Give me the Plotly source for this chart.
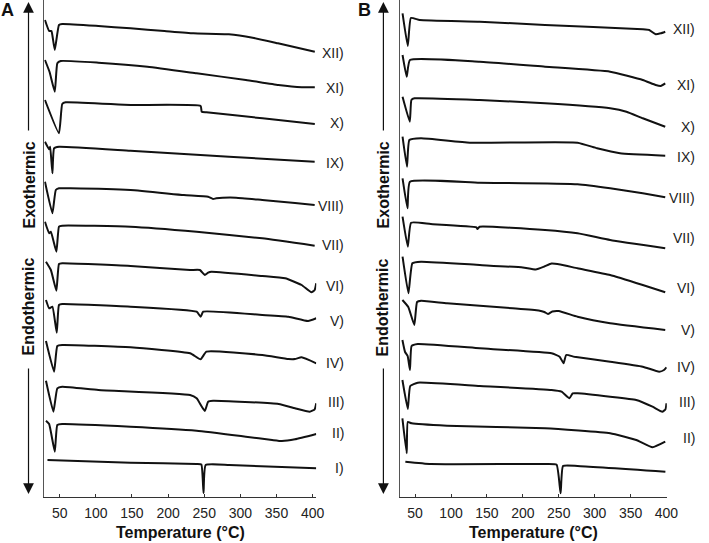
import plotly.graph_objects as go

# ---------------- data ----------------
TEMP_TICKS = [50, 100, 150, 200, 250, 300, 350, 400]
LABELS = ["XII)", "XI)", "X)", "IX)", "VIII)", "VII)", "VI)", "V)", "IV)", "III)", "II)", "I)"]

# Panel A : temperature (°C) and stacked DSC signal (a.u., larger value = lower on chart)
A_XII_T = [29.6, 35.4, 38.6, 40.0, 43.2, 49.0, 53.5, 103.5, 148, 195, 235, 284, 317, 352, 403]
A_XII_Y = [20, 31, 31, 36, 50, 25, 24, 26, 28.3, 31, 33.3, 34.3, 37.7, 43.3, 51.7]
A_XI_T = [29.6, 36.0, 43.2, 46.7, 51.4, 103.5, 171.5, 239.5, 307.6, 352.5, 385, 403]
A_XI_Y = [60, 72, 91.7, 63.3, 61, 62.7, 66.7, 73.3, 80, 85, 87.3, 87.3]
A_X_T = [29.6, 49.0, 53.5, 58.2, 148, 245, 246.5, 253, 330.7, 403]
A_X_Y = [100, 133.3, 104, 102.3, 105, 106, 111.7, 112.3, 118.3, 124]
A_IX_T = [29.6, 35.4, 36.8, 39.9, 42.2, 49, 148, 284.4, 402.8]
A_IX_Y = [141.7, 149.3, 146.7, 173.3, 148.3, 146.7, 150.7, 156.7, 161.7]
A_VIII_T = [29.6, 39.9, 44.6, 49, 65, 148, 221.8, 255.4, 262.2, 266.7, 294, 330.3, 375.6, 402.8]
A_VIII_Y = [181.7, 213.3, 190, 188.3, 188.3, 190, 195, 196.7, 199, 198.3, 197.7, 200, 203, 205]
A_VII_T = [29.6, 35.4, 37.8, 45.4, 49, 53.5, 148, 239.5, 330.3, 402.8]
A_VII_Y = [221.7, 233.3, 231.7, 251.7, 226.7, 225.7, 226.7, 231.7, 238.3, 245.7]
A_VI_T = [31, 37.8, 45.4, 49, 53.5, 148, 230.4, 244, 250.8, 255.4, 259.9, 330.3, 362, 384.7, 398.3, 402.8, 405]
A_VI_Y = [261.7, 270, 290.7, 264, 263.3, 266, 270, 270, 275, 272.7, 271.7, 276, 278.3, 285, 292.3, 290, 283.3]
A_V_T = [31, 35.4, 39.9, 45.9, 49, 53.5, 148, 239.5, 245, 248.6, 330.3, 366.5, 393.7, 405]
A_V_Y = [300, 308.3, 306.7, 332.7, 305, 304, 306.7, 311.7, 316.7, 311.7, 315, 316.7, 321, 318.3]
A_IV_T = [31, 42.2, 46.7, 53.5, 148, 230.4, 245, 253, 330.3, 366.5, 375.6, 384.7, 405]
A_IV_Y = [341, 371.7, 346, 345, 347.3, 353.3, 359.3, 351.7, 355, 359, 359, 357.3, 363.3]
A_III_T = [31, 41.3, 46.7, 53.5, 103.5, 230.4, 239.5, 250.8, 255.4, 262.2, 352.9, 375.6, 396, 402.8, 405]
A_III_Y = [380.7, 411.7, 388.3, 386.7, 390, 395, 398.3, 411, 401.7, 400.7, 404, 408.3, 411.7, 409.3, 403.3]
A_II_T = [31, 35.4, 43.2, 46.7, 53.5, 148, 239.5, 307.6, 343.9, 357.5, 375.6, 405]
A_II_Y = [420.7, 424, 451.7, 425, 424, 426.7, 430.7, 436.7, 440, 441, 439.3, 434]
A_I_T = [33.1, 148, 239.5, 246, 249, 252, 284.8, 405]
A_I_Y = [460, 462.7, 464, 464.5, 493, 465, 465, 468.3]

# Panel B
B_XII_T = [32.5, 39.8, 44.1, 56.4, 140, 230.9, 367, 376, 385, 392, 398.3]
B_XII_Y = [13.3, 46, 18, 20, 21.7, 25, 29.3, 30, 34.3, 33.3, 31.7]
B_XI_T = [32.5, 38.3, 42.8, 140, 230.9, 321.6, 367, 385, 392, 398.3]
B_XI_Y = [55, 76.7, 60, 61.7, 66.7, 71.7, 80, 85, 86, 83.3]
B_X_T = [32.5, 42.6, 44.8, 49.2, 140, 230.9, 321.6, 344.3, 367, 398.3]
B_X_Y = [96.7, 121.7, 100, 98.3, 100, 103.3, 108.3, 111.7, 118.3, 126.7]
B_IX_T = [32.5, 38.7, 42.0, 58.2, 126.3, 276.2, 303.4, 335.3, 398.3]
B_IX_Y = [136.7, 166.7, 140, 138.3, 142.7, 142.7, 148.3, 153.3, 155.7]
B_VIII_T = [32.5, 39.4, 42.8, 140, 276.2, 321.6, 367, 398.3]
B_VIII_Y = [178.3, 208.3, 181.7, 182.7, 184.3, 188.3, 193.3, 197.3]
B_VII_T = [32.5, 39.8, 44.4, 71.8, 135.4, 136.8, 139.9, 230.9, 276.2, 321.6, 398.3]
B_VII_Y = [216.7, 246.7, 222.7, 224, 227.3, 229, 226.7, 230, 233.3, 240, 248.3]
B_VI_T = [32.5, 40.7, 46.2, 58.2, 140, 200, 218, 230, 240, 252, 276.2, 321.6, 367, 398.3]
B_VI_Y = [256.7, 293.3, 263.3, 261.7, 265, 267.5, 269.5, 266.5, 263.5, 264.5, 268.3, 275, 285, 292.3]
B_V_T = [32.3, 40.5, 48.9, 52.7, 58.4, 94.5, 185.8, 222, 230, 235, 241, 250, 276.2, 321.6, 398.3]
B_V_Y = [300, 307, 325, 302, 300.7, 303.3, 308.3, 310.5, 312, 314, 311.5, 311, 316.7, 323.3, 330]
B_IV_T = [32.3, 36.0, 39.6, 42.8, 45.1, 53.7, 140, 240, 251.3, 256.7, 260.4, 271.7, 321.6, 367, 389.8, 396.6, 400]
B_IV_Y = [340, 352, 356, 370, 346, 344, 348.3, 353.3, 356.7, 363.3, 355, 356.7, 361.7, 366.7, 371.7, 370, 367.3]
B_III_T = [32.3, 39.8, 43.2, 53.7, 140, 240, 253.9, 264.9, 269.4, 276.2, 321.6, 357.9, 380.6, 394.2, 398.7, 400]
B_III_Y = [380, 409, 386, 382.7, 386, 390, 391.7, 398.3, 393.3, 393.3, 396.7, 400, 406.7, 411.7, 409.3, 403.3]
B_II_T = [32.3, 38.3, 39.8, 45.1, 94.5, 230.9, 321.6, 357.9, 380.6, 398.3]
B_II_Y = [418.3, 453.3, 422, 423.3, 425.7, 428.3, 433.3, 440, 447.3, 441.7]
B_I_T = [36.4, 71.8, 230.9, 247, 252.6, 256, 276.2, 398.5]
B_I_Y = [461.7, 464, 464, 464.7, 493.3, 466, 466, 471.7]

# ---------------- figure ----------------
W, H = 709, 543
PLOT_H = 497  # plot area height in px (bottom margin 46)

A_CURVES = [(A_XII_T, A_XII_Y), (A_XI_T, A_XI_Y), (A_X_T, A_X_Y), (A_IX_T, A_IX_Y),
            (A_VIII_T, A_VIII_Y), (A_VII_T, A_VII_Y), (A_VI_T, A_VI_Y), (A_V_T, A_V_Y),
            (A_IV_T, A_IV_Y), (A_III_T, A_III_Y), (A_II_T, A_II_Y), (A_I_T, A_I_Y)]
B_CURVES = [(B_XII_T, B_XII_Y), (B_XI_T, B_XI_Y), (B_X_T, B_X_Y), (B_IX_T, B_IX_Y),
            (B_VIII_T, B_VIII_Y), (B_VII_T, B_VII_Y), (B_VI_T, B_VI_Y), (B_V_T, B_V_Y),
            (B_IV_T, B_IV_Y), (B_III_T, B_III_Y), (B_II_T, B_II_Y), (B_I_T, B_I_Y)]

fig = go.Figure()
line_style = dict(color="#111111", width=2, shape="spline", smoothing=0.4)
for t, y in A_CURVES:
    fig.add_trace(go.Scatter(x=t, y=y, mode="lines", line=line_style,
                             xaxis="x", yaxis="y", showlegend=False, hoverinfo="skip"))
for t, y in B_CURVES:
    fig.add_trace(go.Scatter(x=t, y=y, mode="lines", line=line_style,
                             xaxis="x2", yaxis="y2", showlegend=False, hoverinfo="skip"))

FONT = "Liberation Sans, Arial, Helvetica, sans-serif"
axis_color = "#333333"
xcommon = dict(showline=True, linecolor=axis_color, linewidth=1.2, ticks="inside", ticklen=3,
               tickcolor=axis_color, tickvals=TEMP_TICKS, showgrid=False, zeroline=False,
               tickfont=dict(family=FONT, size=14, color="#222222"), ticklabelstandoff=3)
ycommon = dict(showline=True, linecolor="#555555", linewidth=1.2, showticklabels=False,
               ticks="", showgrid=False, zeroline=False, range=[PLOT_H, 0], domain=[0, 1])

fig.update_layout(
    width=W, height=H, margin=dict(l=0, r=0, t=0, b=H - PLOT_H),
    paper_bgcolor="white", plot_bgcolor="white",
    xaxis=dict(xcommon, domain=[45 / W, 321.7 / W], range=[28.6, 405], anchor="y"),
    yaxis=dict(ycommon, anchor="x"),
    xaxis2=dict(xcommon, domain=[406.7 / W, 678.3 / W], range=[28.7, 400.5], anchor="y2"),
    yaxis2=dict(ycommon, anchor="x2"),
)

ann = []
# curve labels
LAB_Y_A = [53, 88, 123, 163, 206, 245, 286, 321, 363, 402, 433, 468]
LAB_Y_B = [29, 85, 127, 157, 198, 238, 288, 330, 367, 402, 438]
for lab, yy in zip(LABELS, LAB_Y_A):
    ann.append(dict(text=lab, xref="paper", yref="y", x=352 / W, y=yy, xanchor="right",
                    yanchor="middle", showarrow=False, font=dict(family=FONT, size=14, color="#222222")))
for lab, yy in zip(LABELS, LAB_Y_B):
    ann.append(dict(text=lab, xref="paper", yref="y2", x=709 / W, y=yy, xanchor="right",
                    yanchor="middle", showarrow=False, font=dict(family=FONT, size=14, color="#222222")))

def py(ypx):
    return (PLOT_H - ypx) / PLOT_H

title_font = dict(family=FONT, size=16, color="#111111")
for cx, letter, ax_x in [(183.4, "A", 29), (542.5, "B", 390)]:
    ann.append(dict(text="<b>Temperature (°C)</b>", xref="paper", yref="paper", x=cx / W, y=py(532),
                    xanchor="center", yanchor="middle", showarrow=False, font=title_font))
    ann.append(dict(text="<b>Exothermic</b>", xref="paper", yref="paper", x=ax_x / W, y=py(185),
                    xanchor="center", yanchor="middle", textangle=-90, showarrow=False, font=title_font))
    ann.append(dict(text="<b>Endothermic</b>", xref="paper", yref="paper", x=ax_x / W, y=py(307),
                    xanchor="center", yanchor="middle", textangle=-90, showarrow=False, font=title_font))
    # up arrow
    ann.append(dict(text="", xref="paper", yref="paper", x=ax_x / W, y=py(2), ax=0, ay=130,
                    showarrow=True, arrowhead=2, arrowsize=1.8, arrowwidth=1.2, arrowcolor="#111111"))
    # down arrow
    ann.append(dict(text="", xref="paper", yref="paper", x=ax_x / W, y=py(494), ax=0, ay=-127,
                    showarrow=True, arrowhead=2, arrowsize=1.8, arrowwidth=1.2, arrowcolor="#111111"))

ann.append(dict(text="<b>A</b>", xref="paper", yref="paper", x=8 / W, y=py(10), xanchor="center",
                yanchor="middle", showarrow=False, font=dict(family=FONT, size=18, color="#111111")))
ann.append(dict(text="<b>B</b>", xref="paper", yref="paper", x=371 / W, y=py(10), xanchor="center",
                yanchor="middle", showarrow=False, font=dict(family=FONT, size=18, color="#111111")))

fig.update_layout(annotations=ann)
fig.write_html("out.html", config={"displayModeBar": False},
               post_script="document.body.style.margin='0';document.body.style.padding='0';"
                           "document.documentElement.style.overflow='hidden';")
